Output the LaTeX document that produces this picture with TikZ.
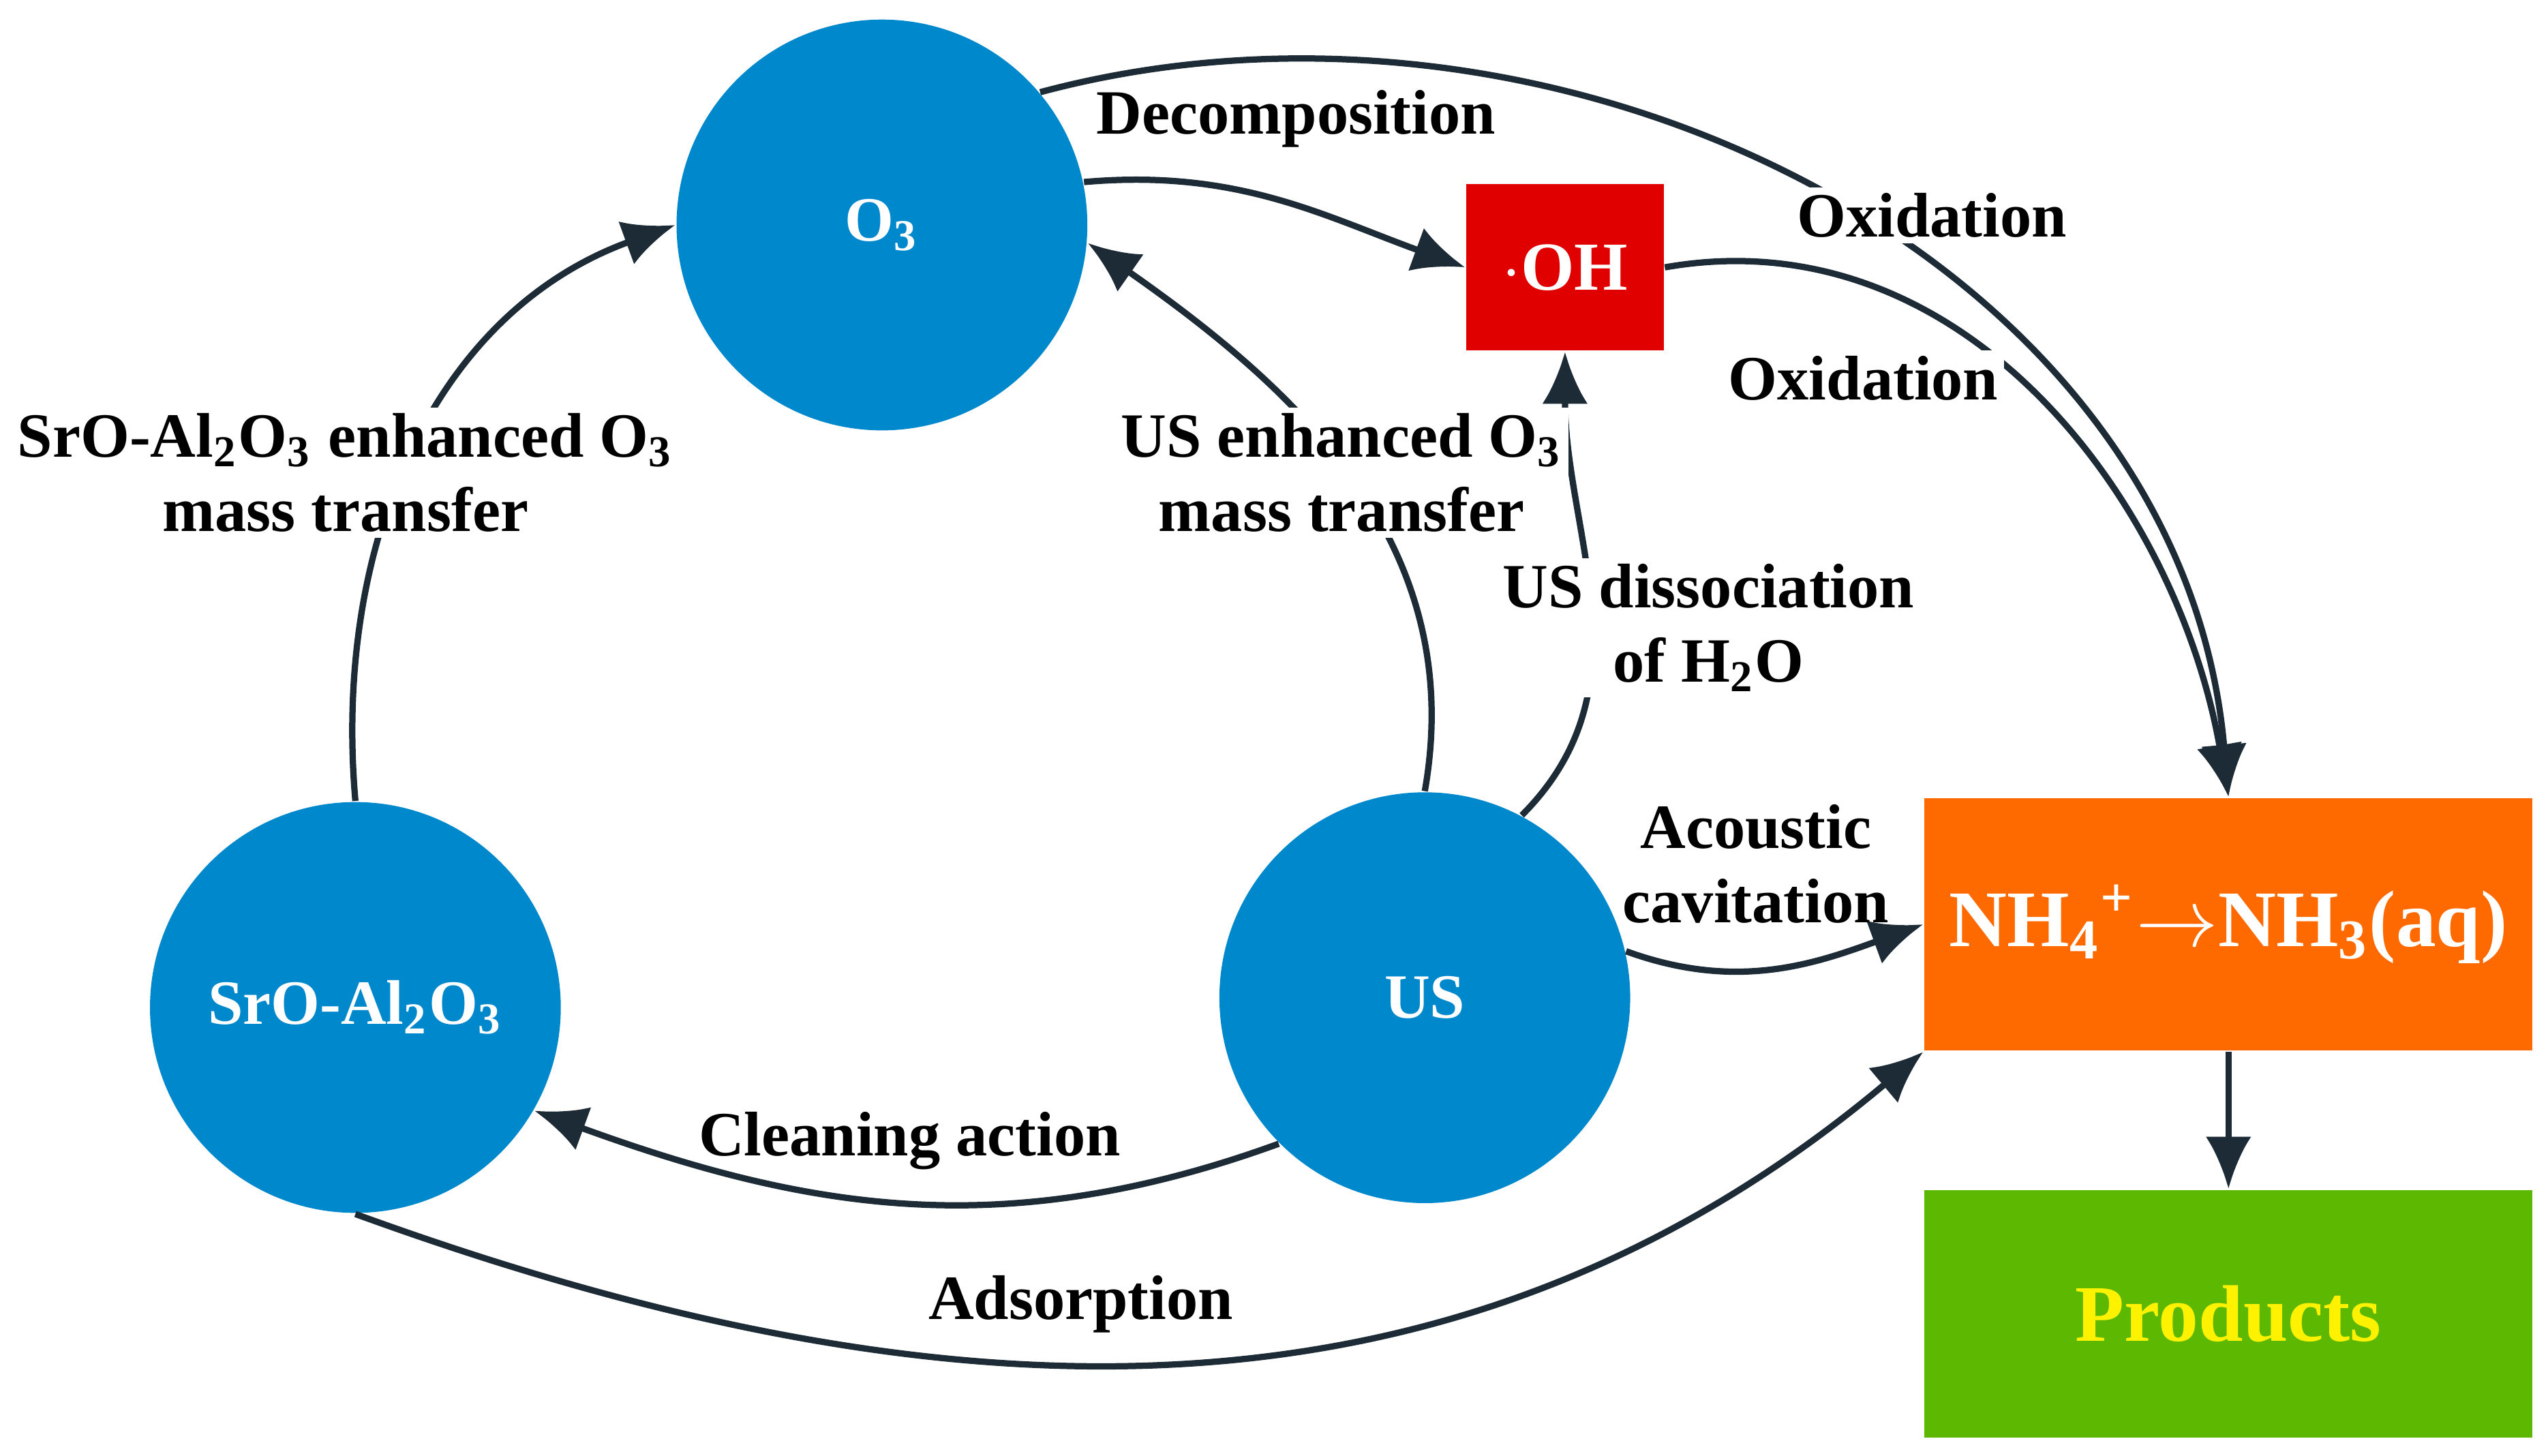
\documentclass[tikz,border=0pt]{standalone}
\usepackage{fontspec}
\setmainfont{Liberation Serif}
\usetikzlibrary{arrows.meta}
\definecolor{circblue}{HTML}{0088CC}
\definecolor{ohred}{HTML}{E00000}
\definecolor{nhorange}{HTML}{FF6A00}
\definecolor{prodgreen}{HTML}{5CB800}
\definecolor{arrowc}{HTML}{1C2B36}
\begin{document}
\begin{tikzpicture}[x=0.1mm,y=0.1mm,font=\bfseries\fontsize{11pt}{13pt}\selectfont,
  conn/.style={->,>={Latex[length=3.2mm,width=2.8mm]},draw=arrowc,line width=1.1pt},
  agent/.style={circle,fill=circblue,text=white,minimum size=2.52cm,inner sep=0pt},
  lab/.style={fill=white,inner sep=1pt,align=center}]
\useasboundingbox (0,0) rectangle (1563,893);

% Knoten
\node[agent] (O)   at (541,755) {O\textsubscript{3}};
\node[agent] (S)   at (218,275) {SrO-Al\textsubscript{2}O\textsubscript{3}};
\node[agent] (U)   at (874,281) {US};
\node[fill=ohred,text=white,minimum width=1.21cm,minimum height=1.02cm,font=\bfseries\fontsize{12pt}{14pt}\selectfont] (OH) at (960,729) {$\cdot$OH};
\node[fill=nhorange,text=white,minimum width=3.73cm,minimum height=1.55cm,font=\bfseries\fontsize{14pt}{16pt}\selectfont] (N) at (1367,326) {NH\textsubscript{4}\textsuperscript{+}$\rightarrow$NH\textsubscript{3}(aq)};
\node[fill=prodgreen,text=yellow,minimum width=3.73cm,minimum height=1.52cm,font=\bfseries\fontsize{14pt}{16pt}\selectfont] (P) at (1367,87) {Products};

% Pfeile
\draw[conn] (O.40) to[out=15,in=95] (N.north);
\draw[conn] (O.12) to[out=5,in=160] (OH.west);
\draw[conn] (OH.east) to[out=10,in=100] (N.north);
\draw[conn] (U.north) to[out=80,in=-35] (O.-5);
\draw[conn] (U.62) to[out=45,in=-90] (OH.south);
\draw[conn] (U.13) to[out=-20,in=200] (N.west);
\draw[conn] (U.-135) to[out=200,in=-20] (S.-30);
\draw[conn] (S.south) to[out=-20,in=220] (N.south west);
\draw[conn] (S.north) to[out=95,in=200] (O.west);
\draw[conn] (N.south) -- (P.north);

% Beschriftungen
\node at (795,820) {Decomposition};
\node[lab] at (1185,761) {Oxidation};
\node[lab] at (1143,661) {Oxidation};
\node[lab] at (823,603) {US enhanced O\textsubscript{3}\\mass transfer};
\node[lab] at (1048,508) {US dissociation\\of H\textsubscript{2}O};
\node[align=center] at (1077,363) {Acoustic\\cavitation};
\node at (558,193) {Cleaning action};
\node at (663,93) {Adsorption};
\node[lab] at (212,603) {SrO-Al\textsubscript{2}O\textsubscript{3} enhanced O\textsubscript{3}\\mass transfer};
\end{tikzpicture}
\end{document}
